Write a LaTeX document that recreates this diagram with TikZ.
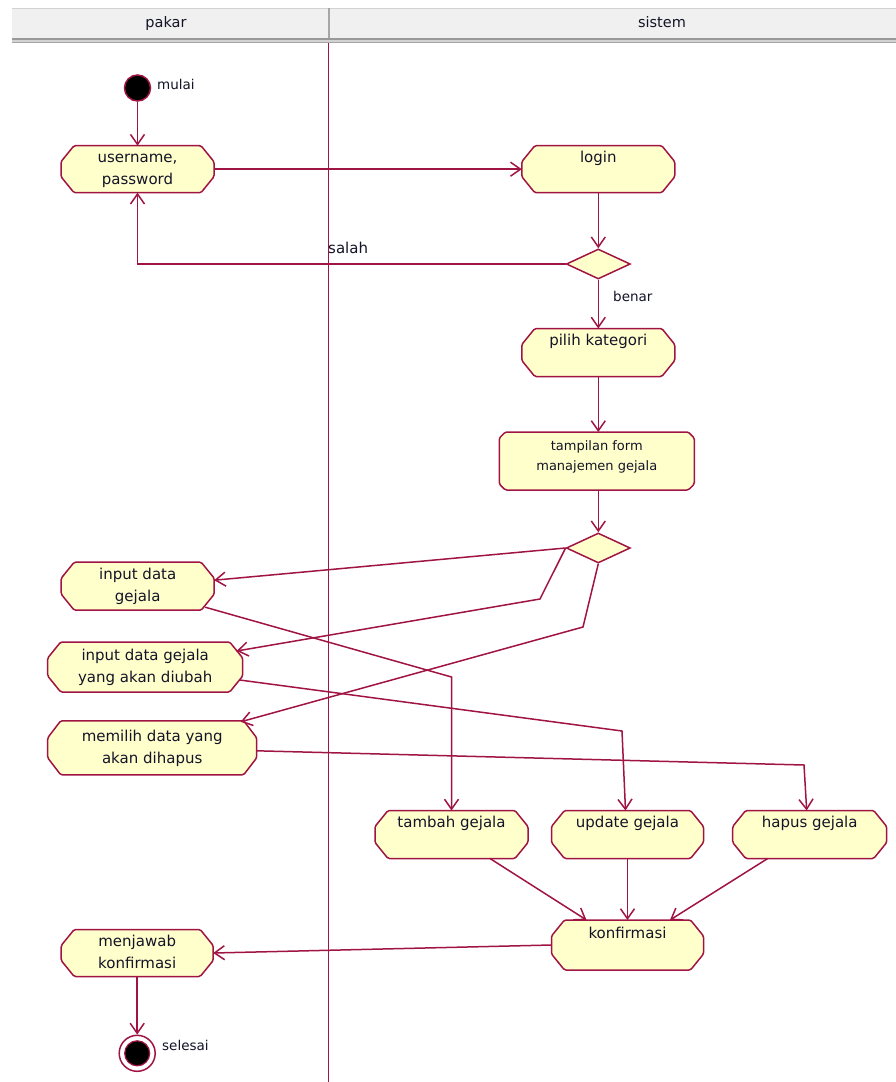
\documentclass[tikz,border=0pt]{standalone}
\usepackage{fontspec}
\setmainfont{DejaVu Sans}
\usetikzlibrary{arrows.meta,shapes.geometric,calc}
\definecolor{lc}{RGB}{160,20,68}
\definecolor{fc}{RGB}{255,255,204}
\definecolor{tc}{RGB}{20,20,40}
\definecolor{hd}{RGB}{240,240,240}
% #1 name, #2 cx, #3 cy, #4 w, #5 h, #6 chamfer dx, #7 chamfer dy, #8 text, #9 extra options
\newcommand\UMLact[9]{%
  \path[actshape] ({#2-#4/2+#6},{#3-#5/2}) -- ({#2+#4/2-#6},{#3-#5/2}) -- ({#2+#4/2},{#3-#5/2+#7})
     -- ({#2+#4/2},{#3+#5/2-#7}) -- ({#2+#4/2-#6},{#3+#5/2}) -- ({#2-#4/2+#6},{#3+#5/2})
     -- ({#2-#4/2},{#3+#5/2-#7}) -- ({#2-#4/2},{#3-#5/2+#7}) -- cycle;
  \node[acttext, minimum width=#4pt, minimum height=#5pt, #9] (#1) at (#2,#3) {#8};
}
\begin{document}
\begin{tikzpicture}[x=1pt,y=-1pt,
  flow/.style={draw=lc, line width=1.5pt, -{Straight Barb[length=10pt,width=14pt]}},
  actshape/.style={draw=lc, fill=fc, line width=1.5pt, rounded corners=1.5pt},
  acttext/.style={inner sep=0pt, outer sep=0pt, align=center, text=tc, font=\fontsize{15pt}{22pt}\selectfont},
  dec/.style={diamond, aspect=2.1, draw=lc, fill=fc, line width=1.5pt, minimum width=64pt, minimum height=30pt, inner sep=0pt},
  lbl/.style={text=tc, inner sep=0pt, font=\fontsize{13.5pt}{16pt}\selectfont},
  hdr/.style={text=tc, inner sep=0pt, font=\fontsize{14.5pt}{16pt}\selectfont}]
\useasboundingbox (0,0) rectangle (896,1082);
\fill[white] (0,0) rectangle (896,1082);
% header
\fill[hd] (12,8) rectangle (896,38);
\draw[gray!35, line width=0.8pt] (12,8.4) -- (896,8.4);
\fill[gray!35] (12,38) rectangle (896,43.3);
\draw[gray!80, line width=1.4pt] (12,38.8) -- (896,38.8);
\draw[gray!70, line width=1.2pt] (12,42.6) -- (896,42.6);
\draw[gray!70, line width=2pt] (328.5,8) -- (328.5,38);
\node[hdr] (hpakar) at (166,23) {pakar};
\node[hdr] (hsistem) at (662,22) {sistem};
% swimlane divider
\draw[lc, line width=1.5pt] (328.5,43) -- (328.5,1082);
% nodes
\node[circle, fill=black, draw=lc, line width=1.5pt, minimum size=26pt, inner sep=0pt] (start) at (137.5,88) {};
\node[lbl, anchor=base west] (mulai) at (157,89.5) {mulai};
\UMLact{user}{137.5}{169.2}{153}{47}{13}{16}{\strut username,\\\strut password}{}
\UMLact{login}{598.3}{169.2}{153}{47}{13}{16}{\strut login\\\strut}{}
\node[dec] (d1) at (598.3,264) {};
\UMLact{pilih}{598.3}{352.5}{153}{48}{13}{16}{\strut pilih kategori\\\strut}{}
\UMLact{tampil}{596.8}{461}{195}{58}{6}{6}{\strut tampilan form\\\strut manajemen gejala\rule[-16pt]{0pt}{10pt}}{font=\fontsize{13pt}{20pt}\selectfont}
\node[dec] (d2) at (598.3,548) {};
\UMLact{inpA}{137.7}{586.2}{153}{48}{13}{16}{\strut input data\\\strut gejala}{}
\UMLact{inpB}{145.2}{667}{195}{50}{13}{16}{\strut input data gejala\\\strut yang akan diubah}{}
\UMLact{inpC}{152.2}{747.8}{209}{54}{13}{17}{\strut memilih data yang\\\strut akan dihapus}{}
\UMLact{tambah}{451.5}{834.5}{153}{48}{13}{16}{\strut tambah gejala\\\strut}{}
\UMLact{update}{627.5}{834.5}{152}{48}{13}{16}{\strut update gejala\\\strut}{}
\UMLact{hapus}{809.7}{834.5}{154}{48}{13}{16}{\strut hapus gejala\\\strut}{}
\UMLact{konf}{627.5}{945}{152}{50}{13}{16}{\strut konfirmasi\\\strut}{}
\UMLact{jawab}{137.2}{953}{152}{47}{13}{16}{\strut menjawab\\\strut konfirmasi}{}
\node[circle, draw=lc, fill=white, line width=1.5pt, minimum size=36pt, inner sep=0pt] (end) at (137.2,1053.3) {};
\node[circle, fill=black, draw=lc, line width=1.2pt, minimum size=25pt, inner sep=0pt] (endin) at (end) {};
\node[lbl, anchor=base west] (selesai) at (162,1050) {selesai};
% connectors
\draw[flow] (start.south) -- (user.north);
\draw[flow] (user.east) -- (login.west);
\draw[flow] (login.south) -- (d1.north);
\draw[flow] (d1.west) -- (d1.west -| user.south) -- (user.south);
\node[lbl, font=\fontsize{15pt}{17pt}\selectfont, anchor=base west] (salah) at (328,253) {salah};
\draw[flow] (d1.south) -- (pilih.north);
\node[lbl, anchor=base west] (benar) at (613,301) {benar};
\draw[flow] (pilih.south) -- (pilih.south |- tampil.north);
\draw[flow] (d2.north |- tampil.south) -- (d2.north);
\coordinate (bB) at (540,599);
\coordinate (bC) at (583,627);
\coordinate (bT) at (451.5,677);
\coordinate (bU) at (622,731);
\coordinate (bH) at (804,765);
\draw[flow] (d2.west) -- ($(inpA.east)+(0,-6)$);
\draw[flow] (d2.west) -- (bB) -- ($(inpB.north east)+(-6,9)$);
\draw[flow] (d2.south) -- (bC) -- ($(inpC.north east)+(-16,1)$);
\draw[flow] ($(inpA.south east)+(-9,-3)$) -- (bT) -- (tambah.north);
\draw[flow] ($(inpB.east)+(-3,13)$) -- (bU) -- ($(update.north)+(-2,0)$);
\draw[flow] ($(inpC.east)+(0,3)$) -- (bH) -- ($(hapus.north)+(-3,0)$);
\draw[flow] ($(tambah.south)+(38.5,0)$) -- ($(konf.north)+(-41,0)$);
\draw[flow] (update.south) -- (konf.north);
\draw[flow] ($(hapus.south)+(-42,0)$) -- ($(konf.north)+(42.5,0)$);
\draw[flow] (konf.west) -- (jawab.east);
\draw[flow] (jawab.south) -- (end.north);
\end{tikzpicture}
\end{document}
